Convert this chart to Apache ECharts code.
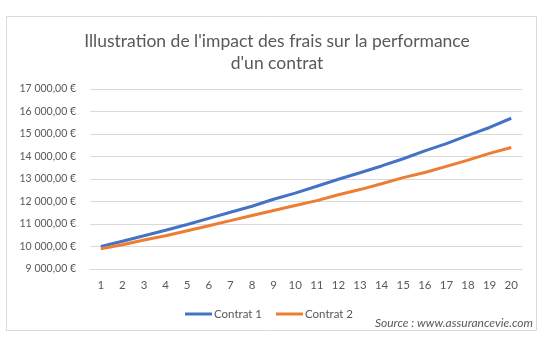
<!DOCTYPE html>
<html><head><meta charset="utf-8">
<script src="https://cdn.jsdelivr.net/npm/echarts@6/dist/echarts.min.js"></script>
<style>html,body{margin:0;padding:0;background:#fff}#c{width:548px;height:341px}</style>
</head><body><div id="c"></div>
<script>
const categories = ['1','2','3','4','5','6','7','8','9','10','11','12','13','14','15','16','17','18','19','20'];
const contrat1 = [10000,10230,10480,10720,10980,11250,11520,11790,12100,12370,12680,12990,13280,13580,13900,14250,14570,14940,15290,15700];
const contrat2 = [9900,10080,10290,10480,10700,10920,11150,11380,11600,11820,12040,12300,12530,12790,13060,13290,13560,13840,14140,14400];
const seriesNames = ['Contrat 1','Contrat 2'];
const titleText = "Illustration de l'impact des frais sur la performance\nd'un contrat";
const sourceText = 'Source : www.assurancevie.com';

function fmt(v){
  const s = Math.round(v).toString().replace(/\B(?=(\d{3})+(?!\d))/g,' ');
  return s + ',00 €';
}
const font = 'Lato, "Open Sans", sans-serif';
const chart = echarts.init(document.getElementById('c'));
chart.setOption({
  animation:false,
  backgroundColor:'#fff',
  title:{text:titleText,top:25,textAlign:'center',left:272,
    textStyle:{fontFamily:font,fontSize:17.5,fontWeight:'normal',color:'#595959',lineHeight:22}},
  graphic:[
    {type:'rect',shape:{x:6.5,y:16.5,width:530,height:314},style:{fill:'none',stroke:'#d9d9d9',lineWidth:1},silent:true},
    {type:'text',right:15,top:317,style:{text:sourceText,font:'italic 12px '+font,fill:'#595959'}}
  ],
  legend:{data:seriesNames,top:303,left:180,itemWidth:27,itemHeight:3,itemGap:14,
    icon:'rect',textStyle:{fontFamily:font,fontSize:11.5,color:'#595959',padding:[0,0,0,-3]}},
  grid:{left:90,right:26,top:89,bottom:72},
  xAxis:{type:'category',data:categories,boundaryGap:true,
    axisLine:{show:true,lineStyle:{color:'#d9d9d9'}},axisTick:{show:false},
    axisLabel:{fontFamily:font,fontSize:11.5,color:'#595959',margin:10}},
  yAxis:{type:'value',min:9000,max:17000,interval:1000,
    axisLine:{show:false},axisTick:{show:false},
    splitLine:{lineStyle:{color:'#d9d9d9'}},
    axisLabel:{fontFamily:font,fontSize:10.5,color:'#595959',margin:14,formatter:fmt}},
  series:[
    {name:seriesNames[0],type:'line',data:contrat1,showSymbol:false,symbol:'none',
      lineStyle:{width:3,color:'#4472C4'},itemStyle:{color:'#4472C4'}},
    {name:seriesNames[1],type:'line',data:contrat2,showSymbol:false,symbol:'none',
      lineStyle:{width:3,color:'#ED7D31'},itemStyle:{color:'#ED7D31'}}
  ]
});
</script></body></html>
